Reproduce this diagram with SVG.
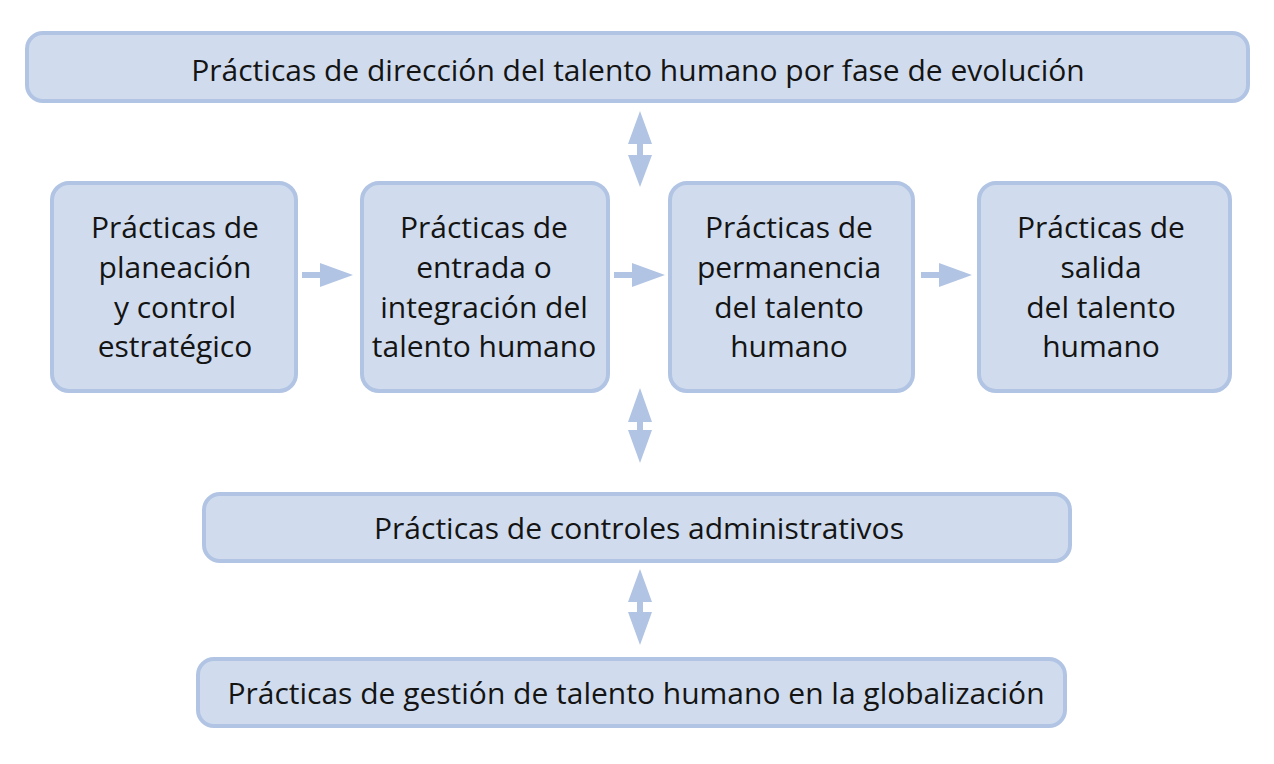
<svg xmlns="http://www.w3.org/2000/svg" width="1274" height="764" viewBox="0 0 1274 764">
<style>
.box{fill:#d0dcee;stroke:#b1c4e4;stroke-width:4}
.t{font-family:"Open Sans","Liberation Sans",sans-serif;font-size:30px;fill:#141414;text-anchor:middle}
.arr{fill:#b1c4e4}
</style>
<rect width="1274" height="764" fill="#fff"/>
<g id="top"><rect class="box" x="27" y="33" width="1221" height="68" rx="16"/><text class="t" x="638" y="81">Prácticas de dirección del talento humano por fase de evolución</text></g>
<g id="n1"><rect class="box" x="52" y="183" width="244" height="208" rx="17"/>
<text class="t" x="175" y="238">Prácticas de</text><text class="t" x="175" y="278">planeación</text><text class="t" x="175" y="318">y control</text><text class="t" x="175" y="357">estratégico</text></g>
<g id="n2"><rect class="box" x="362" y="183" width="246" height="208" rx="17"/>
<text class="t" x="484" y="238">Prácticas de</text><text class="t" x="484" y="278">entrada o</text><text class="t" x="484" y="318">integración del</text><text class="t" x="484" y="357">talento humano</text></g>
<g id="n3"><rect class="box" x="670" y="183" width="243" height="208" rx="17"/>
<text class="t" x="789" y="238">Prácticas de</text><text class="t" x="789" y="278">permanencia</text><text class="t" x="789" y="318">del talento</text><text class="t" x="789" y="357">humano</text></g>
<g id="n4"><rect class="box" x="979" y="183" width="251" height="208" rx="17"/>
<text class="t" x="1101" y="238">Prácticas de</text><text class="t" x="1101" y="278">salida</text><text class="t" x="1101" y="318">del talento</text><text class="t" x="1101" y="357">humano</text></g>
<g id="ctrl"><rect class="box" x="204" y="494" width="866" height="67" rx="16"/><text class="t" x="639" y="539">Prácticas de controles administrativos</text></g>
<g id="glob"><rect class="box" x="198" y="659" width="867" height="67" rx="16"/><text class="t" x="636" y="704">Prácticas de gestión de talento humano en la globalización</text></g>
<g id="connectors">
<path class="arr" d="M302 272H320V263L353 275L320 287V278H302Z"/>
<path class="arr" d="M614 272H632V263L665 275L632 287V278H614Z"/>
<path class="arr" d="M921 272H939V263L972 275L939 287V278H921Z"/>
<path class="arr" d="M640 111L652 144H643V155H652L640 187L628 155H637V144H628Z"/>
<path class="arr" d="M640 388L652 422H643V430H652L640 463L628 430H637V422H628Z"/>
<path class="arr" d="M640 569L652 602H643V612H652L640 645L628 612H637V602H628Z"/>
</g>
</svg>
